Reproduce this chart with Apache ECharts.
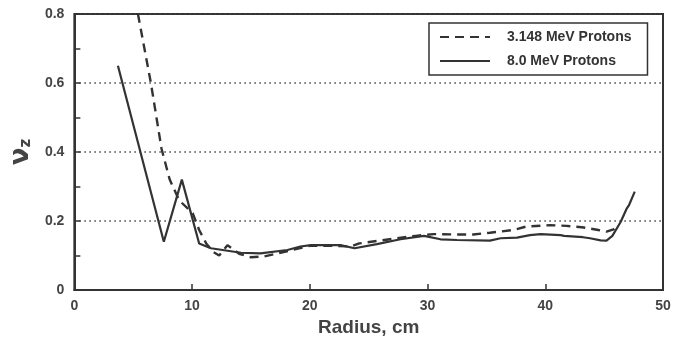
<!DOCTYPE html>
<html>
<head>
<meta charset="utf-8">
<script src="https://cdn.jsdelivr.net/npm/echarts@6/dist/echarts.min.js"></script>
<style>html,body{margin:0;padding:0;background:#fff}#c{width:686px;height:345px}</style>
</head>
<body>
<div id="c"></div>
<script>
// Series names
const seriesNames = ['3.148 MeV Protons', '8.0 MeV Protons'];
// 3.148 MeV (dashed): [radius cm, nu_z]
const r3148 = [5.4, 6.5, 7.4, 8.1, 8.9, 10.06, 10.6, 11.2, 11.8, 12.3, 13.0, 14.0, 15.0, 16.1, 17.5, 19.0, 20.0, 22.0, 23.5, 24.2, 25.7, 27.4, 29.0, 30.5, 32.2, 33.9, 35.3, 37.3, 38.4, 40.4, 41.8, 43.1, 44.5, 45.2, 45.8, 46.2];
const v3148 = [0.80, 0.60, 0.41, 0.32, 0.26, 0.222, 0.174, 0.135, 0.11, 0.10, 0.13, 0.105, 0.095, 0.097, 0.108, 0.12, 0.128, 0.128, 0.126, 0.135, 0.142, 0.15, 0.157, 0.162, 0.161, 0.161, 0.166, 0.174, 0.184, 0.188, 0.186, 0.182, 0.174, 0.169, 0.176, 0.19];
// 8.0 MeV (solid)
const r80 = [3.7, 7.6, 9.13, 10.6, 11.6, 14.15, 15.8, 18.1, 19.2, 20.1, 22.6, 23.8, 25.7, 27.7, 29.7, 31.1, 32.5, 35.3, 36.2, 37.6, 38.7, 39.6, 41.3, 41.6, 43.2, 43.8, 44.7, 45.2, 45.7, 46.4, 46.9, 47.1, 47.6];
const v80 = [0.65, 0.14, 0.32, 0.135, 0.121, 0.108, 0.106, 0.116, 0.126, 0.130, 0.130, 0.121, 0.133, 0.147, 0.157, 0.147, 0.145, 0.143, 0.15, 0.152, 0.159, 0.162, 0.159, 0.157, 0.153, 0.15, 0.144, 0.143, 0.157, 0.197, 0.235, 0.245, 0.285];
// Axis ticks
const xTicks = [0, 10, 20, 30, 40, 50];
const yTicks = [0, 0.2, 0.4, 0.6, 0.8];

const ink = '#333';
const chart = echarts.init(document.getElementById('c'));
chart.setOption({
  animation: false,
  backgroundColor: '#fff',
  grid: { left: 73, right: 23, top: 14, bottom: 55, show: true, borderColor: ink, borderWidth: 2, backgroundColor: 'transparent' },
  legend: {
    left: 429, top: 23, orient: 'vertical',
    padding: [7, 16, 7, 10], itemGap: 10, itemWidth: 50, itemHeight: 14,
    borderColor: ink, borderWidth: 1.5, backgroundColor: '#fff',
    itemStyle: { opacity: 0 },
    textStyle: { fontFamily: 'Liberation Sans', fontWeight: 'bold', fontSize: 14, color: ink, padding: [0, 0, 0, 12] },
    data: seriesNames
  },
  xAxis: {
    type: 'value', min: xTicks[0], max: xTicks[xTicks.length - 1], interval: 10,
    name: 'Radius, cm', nameLocation: 'middle', nameGap: 26,
    nameTextStyle: { fontFamily: 'Liberation Sans', fontWeight: 'bold', fontSize: 19, color: '#444' },
    axisLine: { show: true, lineStyle: { color: ink, width: 2 } },
    axisTick: { inside: true, length: 6, lineStyle: { color: ink, width: 1.5 } },
    axisLabel: { margin: 9, fontFamily: 'Liberation Sans', fontWeight: 'bold', fontSize: 14, color: '#444' },
    splitLine: { show: false }
  },
  yAxis: {
    type: 'value', min: yTicks[0], max: yTicks[yTicks.length - 1], interval: 0.2,
    name: '{n|ν}{s|z}', nameLocation: 'middle', nameGap: 28, nameRotate: 90,
    nameTextStyle: { rich: {
      n: { fontFamily: 'DejaVu Sans', fontWeight: 'bold', fontSize: 26, color: '#444' },
      s: { fontFamily: 'DejaVu Sans', fontWeight: 'bold', fontSize: 15, color: '#444', verticalAlign: 'bottom', padding: [10, 0, 0, 0] }
    } },
    axisLine: { show: true, lineStyle: { color: ink, width: 2 } },
    axisTick: { inside: true, length: 6, lineStyle: { color: ink, width: 1.5 } },
    minorTick: { show: true, splitNumber: 2, length: 6, lineStyle: { color: ink, width: 1.5 } },
    axisLabel: { margin: 10, fontFamily: 'Liberation Sans', fontWeight: 'bold', fontSize: 14, color: '#444',
      formatter: v => v === 0 ? '0' : v.toFixed(1) },
    splitLine: { show: true, lineStyle: { color: '#444', type: [1.5, 3.5], width: 1.5 } }
  },
  series: [
    { name: seriesNames[0], type: 'line', symbol: 'none', clip: true,
      data: r3148.map((r, i) => [r, v3148[i]]),
      lineStyle: { color: ink, width: 2.4, type: [9, 6] }, itemStyle: { color: ink } },
    { name: seriesNames[1], type: 'line', symbol: 'none', clip: true,
      data: r80.map((r, i) => [r, v80[i]]),
      lineStyle: { color: ink, width: 2.2, type: 'solid' }, itemStyle: { color: ink } }
  ]
});
</script>
</body>
</html>
